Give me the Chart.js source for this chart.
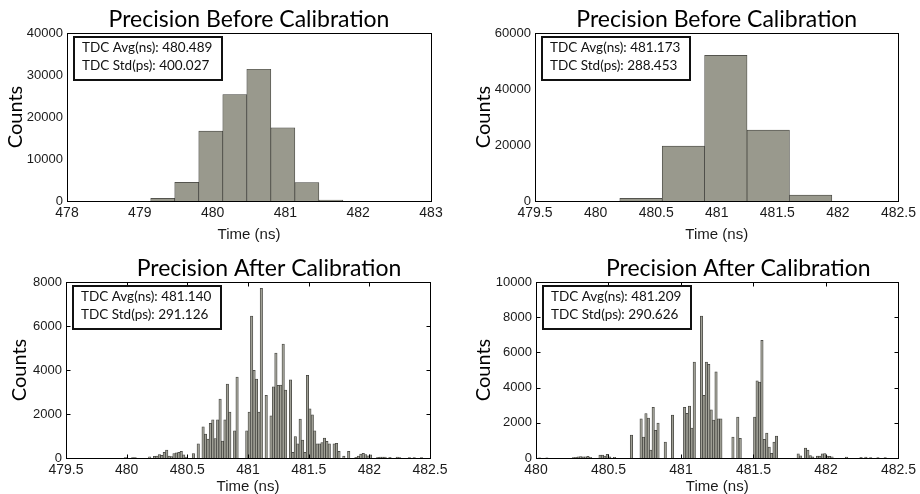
<!DOCTYPE html>
<html lang="en">
<head>
  <meta charset="UTF-8">
  <title>TDC Precision</title>
  <script src="https://cdn.jsdelivr.net/npm/chart.js"></script>
  <style>
    body { margin: 0; background: #fff; }
    .wrap { position: relative; width: 920px; height: 494px; }
    .wrap canvas { position: absolute; }
  </style>
</head>
<body>
  <div class="wrap">
    <canvas id="tl" width="460" height="247" style="left:0;top:0"></canvas>
    <canvas id="tr" width="460" height="247" style="left:460px;top:0"></canvas>
    <canvas id="bl" width="460" height="247" style="left:0;top:247px"></canvas>
    <canvas id="br" width="460" height="247" style="left:460px;top:247px"></canvas>
  </div>
  <script>
    // before calibration, coarse bins (edges + counts)
    const edgesTL = [479.15, 479.48, 479.81, 480.14, 480.47, 480.80, 481.13, 481.46, 481.79];
    const countsTL = [630, 4430, 16630, 25350, 31370, 17430, 4360, 240];
    const edgesTR = [480.2, 480.55, 480.9, 481.25, 481.6, 481.95];
    const countsTR = [950, 19600, 52040, 25300, 2140];

    // after calibration, 150 fine bins each
    const startBL = 479.5, widthBL = 0.02;
    const countsBL = [
      0, 0, 0, 0, 0, 0, 0, 0, 0, 0,
      0, 0, 0, 0, 0, 0, 0, 0, 0, 0,
      0, 0, 0, 0, 15, 0, 0, 20, 15, 0,
      0, 0, 0, 0, 50, 0, 80, 90, 150, 120,
      260, 360, 90, 60, 200, 240, 260, 300, 140, 40,
      0, 0, 200, 0, 640, 0, 1420, 1090, 860, 1580,
      1730, 880, 1730, 2680, 770, 1730, 3360, 2090, 0, 1230,
      3680, 0, 0, 0, 1240, 2090, 6450, 3990, 3590, 2090,
      7710, 0, 2850, 0, 1920, 3240, 4770, 3300, 3320, 5180,
      3090, 0, 3550, 260, 970, 640, 1770, 820, 260, 3760,
      2240, 1960, 1230, 640, 640, 700, 900, 760, 640, 0,
      640, 670, 300, 0, 90, 0, 300, 0, 0, 30,
      90, 180, 210, 150, 100, 140, 0, 0, 30, 45,
      45, 45, 0, 30, 0, 0, 45, 15, 0, 0,
      0, 20, 0, 20, 0, 0, 20, 0, 0, 0
    ];
    const startBR = 480, widthBR = 1 / 60;
    const countsBR = [
      0, 15, 0, 0, 15, 0, 0, 0, 0, 0,
      0, 0, 0, 0, 0, 30, 40, 60, 80, 60,
      70, 90, 40, 0, 0, 0, 160, 170, 110, 210,
      60, 0, 40, 0, 0, 0, 0, 0, 0, 1300,
      0, 0, 0, 2220, 1190, 2520, 2270, 450, 2880, 1570,
      1990, 0, 0, 910, 0, 0, 2440, 0, 0, 0,
      0, 2880, 2540, 2950, 1700, 5450, 0, 0, 8070, 3560,
      5450, 5320, 2730, 2160, 4890, 2220, 2220, 0, 0, 0,
      0, 1190, 0, 2330, 1120, 0, 0, 0, 0, 0,
      2330, 4380, 4320, 6690, 1060, 1420, 620, 265, 900, 1250,
      0, 0, 0, 0, 0, 0, 0, 0, 230, 130,
      0, 560, 450, 140, 60, 0, 110, 110, 230, 245,
      110, 95, 70, 0, 0, 0, 0, 0, 55, 0,
      0, 0, 0, 0, 35, 0, 55, 0, 30, 0,
      0, 30, 0, 0, 30, 0, 0, 0, 0, 0
    ];

    // tick labels
    const xTicksTL = [478, 479, 480, 481, 482, 483];
    const xTicksTR = [479.5, 480, 480.5, 481, 481.5, 482, 482.5];
    const xTicksBL = [479.5, 480, 480.5, 481, 481.5, 482, 482.5];
    const xTicksBR = [480, 480.5, 481, 481.5, 482, 482.5];
    const yTicksTL = [0, 10000, 20000, 30000, 40000];
    const yTicksTR = [0, 20000, 40000, 60000];
    const yTicksBL = [0, 2000, 4000, 6000, 8000];
    const yTicksBR = [0, 2000, 4000, 6000, 8000, 10000];

    // stats text boxes
    const statsTL = ['480.489', '400.027'];
    const statsTR = ['481.173', '288.453'];
    const statsBL = ['481.140', '291.126'];
    const statsBR = ['481.209', '290.626'];

    const calFont = 'Lato, "Open Sans", sans-serif';
    const arialFont = '"Liberation Sans", Arial, sans-serif';

    // frame, inward ticks, title and the stats box
    const panelPlugin = {
      id: 'panel',
      afterDatasetsDraw(chart, args, opts) {
        const { ctx, chartArea: a } = chart;
        ctx.save();
        ctx.strokeStyle = '#000';
        ctx.lineWidth = 1;
        const l = Math.round(a.left) + 0.5, t = Math.round(a.top) + 0.5;
        const r = Math.round(a.right) + 0.5, b = Math.round(a.bottom) + 0.5;
        ctx.strokeRect(l, t, r - l, b - t);

        if (opts.innerTicks) {
          const xs = chart.scales.x, ys = chart.scales.y;
          ctx.beginPath();
          xs.ticks.forEach(tk => {
            const px = Math.round(xs.getPixelForValue(tk.value)) + 0.5;
            ctx.moveTo(px, t); ctx.lineTo(px, t + 4);
            ctx.moveTo(px, b); ctx.lineTo(px, b - 4);
          });
          ys.ticks.forEach(tk => {
            const py = Math.round(ys.getPixelForValue(tk.value)) + 0.5;
            ctx.moveTo(l, py); ctx.lineTo(l + 4, py);
            ctx.moveTo(r, py); ctx.lineTo(r - 4, py);
          });
          ctx.stroke();
        }

        ctx.fillStyle = '#000';
        ctx.font = '23px ' + calFont;
        ctx.textAlign = 'center';
        ctx.textBaseline = 'alphabetic';
        ctx.fillText(opts.title, (a.left + a.right) / 2 + opts.titleDx, a.top - 6);

        const bx = Math.round(a.left) + 7, by = Math.round(a.top) + 4;
        ctx.fillStyle = '#fff';
        ctx.fillRect(bx, by, 148, 43);
        ctx.lineWidth = 2;
        ctx.strokeStyle = '#111';
        ctx.strokeRect(bx, by, 148, 43);
        ctx.fillStyle = '#111';
        ctx.font = '13.5px ' + calFont;
        ctx.textAlign = 'left';
        ctx.fillText('TDC Avg(ns): ' + opts.stats[0], bx + 8, by + 15);
        ctx.fillText('TDC Std(ps): ' + opts.stats[1], bx + 8, by + 33);
        ctx.restore();
      }
    };

    function makeChart(id, points, cfg) {
      return new Chart(document.getElementById(id), {
        type: 'bar',
        data: {
          datasets: [{
            data: points,
            backgroundColor: cfg.fill,
            borderColor: 'rgb(62, 62, 58)',
            borderWidth: cfg.border,
            barPercentage: 1,
            categoryPercentage: 1
          }]
        },
        options: {
          responsive: false,
          animation: false,
          layout: { padding: { left: 0, top: cfg.top, right: cfg.right, bottom: 0 } },
          plugins: {
            legend: { display: false },
            tooltip: { enabled: false },
            panel: { title: cfg.title, titleDx: cfg.titleDx, stats: cfg.stats, innerTicks: cfg.innerTicks }
          },
          scales: {
            x: {
              type: 'linear',
              min: cfg.xTicks[0],
              max: cfg.xTicks[cfg.xTicks.length - 1],
              offset: false,
              grid: { display: false, drawTicks: false },
              border: { display: false },
              afterBuildTicks: s => { s.ticks = cfg.xTicks.map(v => ({ value: v })); },
              afterFit: s => { s.height = cfg.xh; },
              ticks: { font: { family: arialFont, size: 14 }, color: '#1a1a1a', padding: 4, maxRotation: 0, autoSkip: false, callback: v => String(v) },
              title: { display: true, text: 'Time (ns)', font: { family: arialFont, size: 15, lineHeight: 1 }, color: '#1a1a1a', padding: { top: 0, bottom: cfg.xtPad } }
            },
            y: {
              min: 0,
              max: cfg.yTicks[cfg.yTicks.length - 1],
              grid: { display: false, drawTicks: false },
              border: { display: false },
              afterBuildTicks: s => { s.ticks = cfg.yTicks.map(v => ({ value: v })); },
              afterFit: s => { s.width = cfg.yw; },
              ticks: { font: { family: arialFont, size: 13 }, color: '#1a1a1a', padding: 4, callback: v => String(v) },
              title: { display: true, text: 'Counts', font: { family: calFont, size: 20, lineHeight: 1 }, color: '#000', padding: { top: cfg.ytPad, bottom: 0 } }
            }
          }
        },
        plugins: [panelPlugin]
      });
    }

    const histPoints = (edges, counts) => counts.map((c, i) => ({ x: (edges[i] + edges[i + 1]) / 2, y: c }));
    const finePoints = (start, width, counts) => counts.map((c, i) => ({ x: start + (i + 0.5) * width, y: c }));

    makeChart('tl', histPoints(edgesTL, countsTL), {
      top: 33, right: 29, yw: 67, xh: 46, xtPad: 5, ytPad: 6, border: 0.7, fill: 'rgb(153, 153, 141)',
      xTicks: xTicksTL, yTicks: yTicksTL, title: 'Precision Before Calibration', titleDx: 0, stats: statsTL, innerTicks: false
    });
    makeChart('tr', histPoints(edgesTR, countsTR), {
      top: 33, right: 21, yw: 75, xh: 46, xtPad: 5, ytPad: 14, border: 0.7, fill: 'rgb(153, 153, 141)',
      xTicks: xTicksTR, yTicks: yTicksTR, title: 'Precision Before Calibration', titleDx: 0, stats: statsTR, innerTicks: false
    });
    makeChart('bl', finePoints(startBL, widthBL, countsBL), {
      top: 35, right: 30, yw: 66, xh: 36, xtPad: 0, ytPad: 10, border: 0.75, fill: 'rgb(160, 160, 150)',
      xTicks: xTicksBL, yTicks: yTicksBL, title: 'Precision After Calibration', titleDx: 21, stats: statsBL, innerTicks: true
    });
    makeChart('br', finePoints(startBR, widthBR, countsBR), {
      top: 35, right: 20, yw: 76, xh: 36, xtPad: 0, ytPad: 14, border: 0.75, fill: 'rgb(160, 160, 150)',
      xTicks: xTicksBR, yTicks: yTicksBR, title: 'Precision After Calibration', titleDx: 21, stats: statsBR, innerTicks: true
    });
  </script>
</body>
</html>
